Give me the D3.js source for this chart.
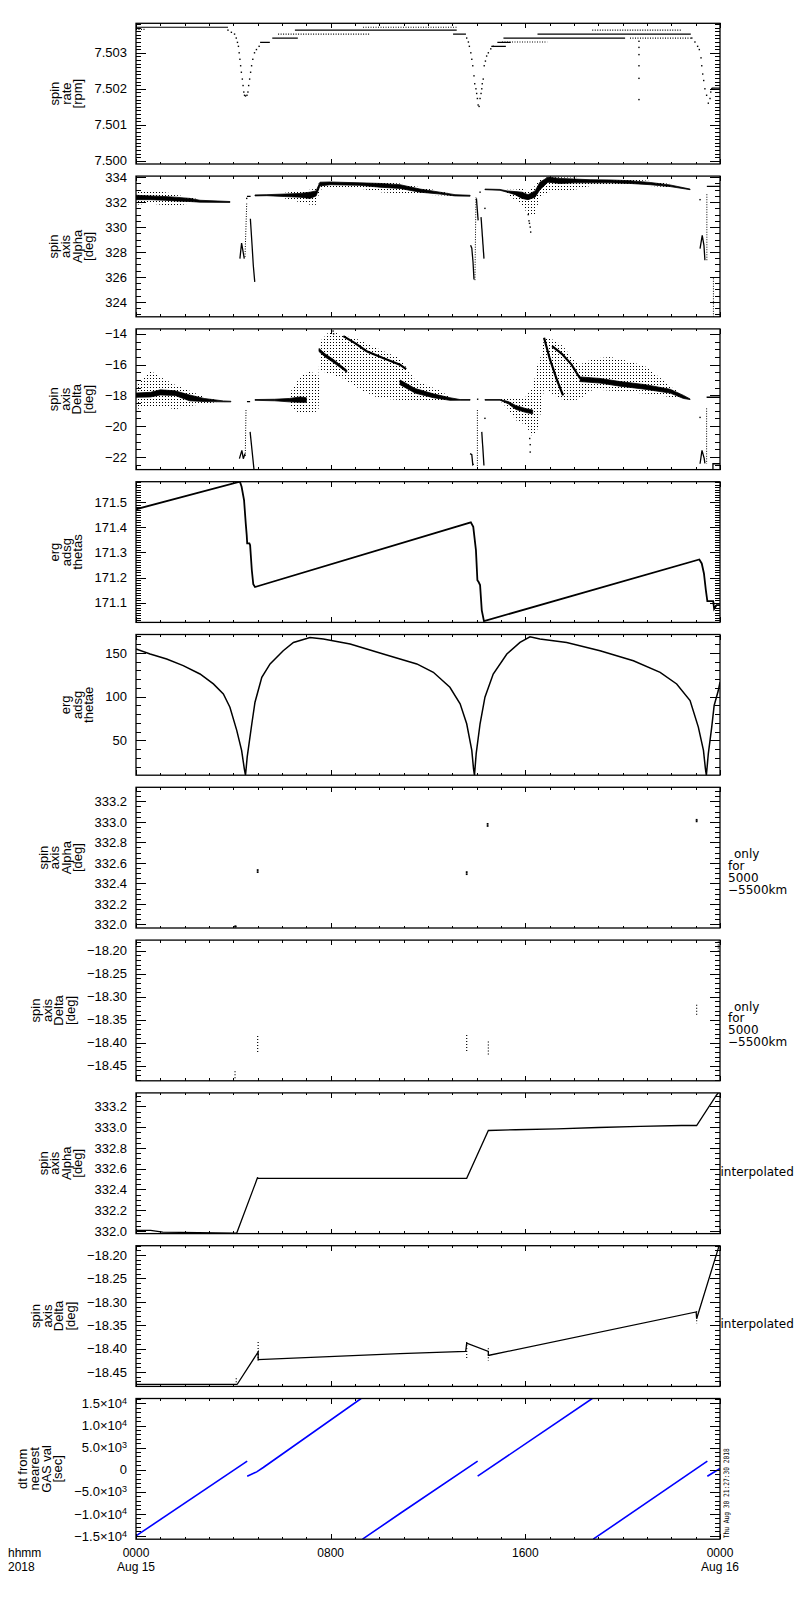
<!DOCTYPE html>
<html>
<head>
<meta charset="utf-8">
<script src="https://cdn.jsdelivr.net/npm/d3@7"></script>
<style>
  body { margin: 0; background: #fff; }
  text { fill: #000; }
</style>
</head>
<body>
<svg id="chart" width="800" height="1600"></svg>
<script>
// ---------- data (hours since 2018-08-15 00:00) ----------

const hourTicks = [0, 8, 16, 24]
const hourLabels = ["0000", "0800", "1600", "0000"]
const dayLabels = ["Aug 15", "", "", "Aug 16"]

const rateTicks = [7.500, 7.501, 7.502, 7.503]
const alphaTicks = [324, 326, 328, 330, 332, 334]
const deltaTicks = [-22, -20, -18, -16, -14]
const thetasTicks = [171.1, 171.2, 171.3, 171.4, 171.5]
const thetaeTicks = [50, 100, 150]
const alphaFineTicks = [332.0, 332.2, 332.4, 332.6, 332.8, 333.0, 333.2]
const deltaFineTicks = [-18.45, -18.40, -18.35, -18.30, -18.25, -18.20]
const dtTicks = [-15000, -10000, -5000, 0, 5000, 10000, 15000]

// spin rate: quantised levels [h0, h1, rpm] and single samples [h, rpm]
const rateSolid = [
  [0, 3.78, 7.50371], [5.1, 5.5, 7.50329], [5.6, 6.65, 7.50341],
  [6.53, 13.18, 7.50363], [13.03, 13.56, 7.50352], [14.6, 15.2, 7.50318],
  [14.85, 15.4, 7.50329], [15.1, 20.1, 7.50341], [16.5, 22.8, 7.50352],
  [23.66, 24, 7.50202]
]
const rateDotted = [
  [0, 0.4, 7.50365], [5.84, 9.6, 7.50352], [9.33, 13.18, 7.50371],
  [15.04, 16.9, 7.50330], [18.75, 22.45, 7.50363], [20.3, 22.8, 7.50341]
]
const rateDips = [
  [3.78, 7.50363], [3.92, 7.50357], [4.05, 7.50352], [4.12, 7.50341], [4.17, 7.50329],
  [4.21, 7.50318], [4.24, 7.50300], [4.27, 7.50282], [4.30, 7.50264], [4.33, 7.50246],
  [4.37, 7.50227], [4.40, 7.50209], [4.43, 7.50191], [4.46, 7.50182], [4.50, 7.50180],
  [4.56, 7.50182], [4.60, 7.50191], [4.63, 7.50209], [4.67, 7.50227], [4.71, 7.50246],
  [4.75, 7.50264], [4.80, 7.50282], [4.87, 7.50300], [4.95, 7.50309], [5.06, 7.50318],
  [13.59, 7.50341], [13.66, 7.50330], [13.70, 7.50318], [13.76, 7.50300], [13.80, 7.50282],
  [13.84, 7.50264], [13.89, 7.50236], [13.92, 7.50214], [13.97, 7.50200], [14.00, 7.50187],
  [14.03, 7.50173], [14.06, 7.50155], [14.10, 7.50151], [14.14, 7.50173], [14.18, 7.50187],
  [14.21, 7.50200], [14.23, 7.50214], [14.27, 7.50227], [14.31, 7.50264], [14.36, 7.50277],
  [14.41, 7.50291], [14.48, 7.50300], [14.58, 7.50311], [14.68, 7.50318],
  [20.67, 7.50332], [20.67, 7.50315], [20.67, 7.50295], [20.67, 7.50264], [20.67, 7.50229],
  [20.67, 7.50170],
  [22.84, 7.50341], [22.97, 7.50330], [23.08, 7.50318], [23.15, 7.50309], [23.22, 7.50286],
  [23.25, 7.50264], [23.29, 7.50241], [23.33, 7.50223], [23.38, 7.50200], [23.45, 7.50182],
  [23.52, 7.50160], [23.59, 7.50173], [23.62, 7.50191], [23.66, 7.50200]
]

// spin axis alpha: dense core [h, lo, hi], sparse scatter envelope [h, lo, hi]
const alphaCore = [
  [[0, 332.2, 332.55], [0.58, 332.2, 332.5], [1.19, 332.15, 332.45], [1.6, 332.1, 332.4],
   [2.22, 332.05, 332.3], [2.63, 332.0, 332.15], [3.86, 331.98, 332.05]],
  [[4.89, 332.5, 332.58], [5.38, 332.52, 332.6], [6.12, 332.45, 332.65], [6.74, 332.4, 332.7],
   [7.15, 332.3, 332.8], [7.4, 332.5, 332.9], [7.56, 333.3, 333.6], [7.97, 333.4, 333.62],
   [9.2, 333.35, 333.55], [10.03, 333.2, 333.5], [10.85, 333.1, 333.4], [11.67, 332.8, 333.05],
   [12.49, 332.65, 332.8], [13.11, 332.5, 332.6], [13.73, 332.48, 332.55]],
  [[14.34, 333.0, 333.05], [14.96, 332.95, 333.02], [15.25, 332.8, 332.9], [15.58, 332.6, 332.85],
   [15.86, 332.3, 332.8], [16.11, 332.2, 332.6], [16.4, 332.4, 332.9], [16.6, 333.0, 333.6],
   [16.93, 333.6, 334.0], [17.43, 333.5, 333.9], [18.04, 333.55, 333.85], [18.66, 333.55, 333.8],
   [19.48, 333.55, 333.78], [20.3, 333.5, 333.72], [21.13, 333.4, 333.58], [21.95, 333.25, 333.38],
   [22.77, 333.0, 333.05]]
]
const alphaCloud = [
  [[0, 331.8, 332.85], [0.58, 331.9, 332.9], [1.19, 331.75, 332.8], [1.5, 331.66, 332.7],
   [1.6, 331.7, 332.6], [2.22, 331.9, 332.4], [2.63, 331.95, 332.2], [3.0, 331.98, 332.1]],
  [[6.12, 332.3, 332.75], [6.74, 332.0, 332.9], [7.15, 331.8, 333.0], [7.4, 331.8, 333.1],
   [7.56, 333.0, 333.7], [7.97, 333.2, 333.7], [9.2, 333.1, 333.65], [10.03, 332.8, 333.6],
   [10.85, 332.7, 333.5], [11.67, 332.6, 333.2], [12.49, 332.55, 332.9], [13.11, 332.5, 332.6]],
  [[15.25, 332.6, 333.0], [15.58, 332.2, 333.0], [15.86, 331.8, 333.1], [16.11, 331.0, 332.9],
   [16.4, 331.0, 333.3], [16.6, 332.4, 333.9], [16.93, 332.8, 334.0], [17.43, 332.9, 334.0],
   [18.04, 333.0, 333.95], [18.66, 333.3, 333.9], [19.48, 333.4, 333.9], [20.3, 333.35, 333.85],
   [21.13, 333.3, 333.7], [21.95, 333.2, 333.45]]
]
const alphaTraces = [
  [[4.27, 327.47], [4.34, 328.72], [4.45, 327.47]],
  [[4.70, 330.67], [4.77, 328.54], [4.82, 326.94], [4.88, 325.6]],
  [[4.56, 332.46], [4.71, 332.46]],
  [[13.75, 328.54], [13.8, 328.3], [13.85, 327.2], [13.89, 325.79]],
  [[13.99, 332.3], [14.06, 330.54]],
  [[14.18, 330.8], [14.3, 327.47]],
  [[23.18, 328.27], [23.27, 329.34], [23.34, 328.54], [23.38, 327.34]],
  [[23.46, 333.26], [24, 333.26]]
]
const alphaDotted = [
  [4.48, 327.6, 4.55, 331.9], [13.93, 325.74, 13.97, 332.4],
  [23.46, 327.34, 23.46, 332.72], [23.73, 322.8, 23.73, 326.0]
]
const alphaPoints = [
  [4.55, 332.3], [14.14, 332.8], [14.34, 331.5], [23.18, 332.2],
  [16.12, 331.0], [16.15, 330.5], [16.17, 330.3], [16.2, 330.0], [16.22, 329.6]
]

// spin axis delta
const deltaCore = [
  [[0, -18.12, -17.85], [0.6, -18.1, -17.8], [1.0, -17.97, -17.64], [1.6, -18.0, -17.7],
   [2.2, -18.35, -17.97], [2.8, -18.4, -18.2], [3.6, -18.42, -18.36], [3.9, -18.42, -18.38]],
  [[4.89, -18.32, -18.27], [5.7, -18.35, -18.25], [6.3, -18.42, -18.2], [6.74, -18.45, -18.1],
   [7.0, -18.45, -18.15]],
  [[7.52, -15.15, -14.95], [7.77, -15.5, -15.3], [8.1, -15.85, -15.65], [8.66, -16.5, -16.35]],
  [[10.85, -17.3, -17.0], [11.47, -17.85, -17.55], [12.22, -18.15, -17.9], [12.9, -18.32, -18.15],
   [13.32, -18.31, -18.27], [13.73, -18.31, -18.27]],
  [[14.34, -18.31, -18.27], [14.96, -18.31, -18.27], [15.3, -18.55, -18.4], [15.6, -18.9, -18.65],
   [16.0, -19.1, -18.85], [16.3, -19.2, -18.95]],
  [[18.25, -17.1, -16.8], [19.07, -17.2, -16.9], [19.89, -17.4, -17.1], [20.92, -17.6, -17.3],
   [21.95, -17.85, -17.6], [22.5, -18.2, -18.0], [22.77, -18.27, -18.23]]
]
const deltaCloud = [
  [[0, -18.9, -17.4], [0.6, -18.7, -16.4], [1.0, -18.7, -16.8], [1.6, -18.9, -17.3],
   [2.2, -18.7, -17.7], [2.8, -18.55, -18.1], [3.3, -18.45, -18.3]],
  [[6.3, -18.7, -17.9], [6.74, -19.2, -16.8], [7.15, -19.2, -16.4], [7.5, -19.0, -16.8],
   [7.56, -16.4, -14.5], [7.97, -16.6, -13.8], [8.5, -16.9, -14.1], [9.2, -17.6, -14.4],
   [10.0, -18.2, -15.0], [10.85, -18.3, -15.6], [11.47, -18.3, -17.0], [12.5, -18.35, -17.7],
   [13.0, -18.3, -18.2]],
  [[14.96, -18.35, -18.25], [15.3, -18.9, -18.1], [15.6, -19.6, -18.1], [16.0, -19.9, -18.1],
   [16.3, -20.7, -17.5], [16.5, -20.2, -16.0], [16.65, -19.0, -15.4], [16.77, -17.5, -14.26],
   [17.2, -18.0, -14.4], [17.55, -18.3, -14.8], [17.9, -18.4, -15.5], [18.25, -18.2, -16.0],
   [18.8, -17.6, -15.6], [19.5, -17.7, -15.5], [20.3, -17.8, -15.8], [20.92, -17.9, -16.1],
   [21.5, -18.0, -16.8], [21.95, -18.1, -17.4], [22.4, -18.25, -17.9]]
]
const deltaBranches = [
  [[8.52, -14.15], [9.0, -14.6], [9.48, -15.13], [10.2, -15.6], [10.85, -16.0], [11.1, -16.3]],
  [[16.77, -14.26], [17.0, -15.6], [17.3, -17.0], [17.55, -18.0]],
  [[17.1, -14.8], [17.5, -15.3], [17.9, -16.0], [18.25, -16.9]]
]
const deltaTraces = [
  [[4.25, -22.11], [4.35, -21.57], [4.41, -22.11], [4.48, -21.78]],
  [[4.56, -18.4], [4.69, -18.4]],
  [[4.69, -20.37], [4.85, -22.83], [4.9, -23.2]],
  [[13.73, -21.78], [13.8, -21.85], [13.84, -22.5], [13.88, -22.45]],
  [[14.21, -20.37], [14.3, -22.55]],
  [[23.18, -22.44], [23.26, -21.57], [23.35, -22.09], [23.38, -22.42]],
  [[23.45, -18.12], [24, -18.12]],
  [[23.71, -22.9], [23.71, -22.44], [24, -22.44]]
]
const deltaDotted = [
  [4.52, -18.95, 4.49, -22.0], [14.03, -18.95, 14.03, -22.66], [23.45, -18.84, 23.45, -22.44]
]
const deltaPoints = [
  [14.34, -19.49], [14.04, -18.25], [23.18, -19.43], [16.2, -21.68], [16.2, -21.2],
  [16.18, -20.8], [8.1, -13.82], [8.12, -14.0]
]

// erg adsg thetas / thetae
const thetasLine = [
  [0, 171.472], [4.27, 171.582], [4.34, 171.562], [4.44, 171.509], [4.51, 171.416],
  [4.55, 171.369], [4.57, 171.336], [4.66, 171.336], [4.69, 171.329], [4.76, 171.229],
  [4.82, 171.173], [4.89, 171.162], [13.76, 171.42], [13.86, 171.402], [13.97, 171.309],
  [14.03, 171.189], [14.08, 171.182], [14.14, 171.17], [14.21, 171.069], [14.3, 171.026],
  [23.15, 171.272], [23.25, 171.256], [23.34, 171.216], [23.42, 171.149], [23.48, 171.106],
  [23.72, 171.106], [23.76, 171.075], [23.86, 171.09], [24, 171.09]
]
const thetaeLine = [
  [0, 154.6], [0.58, 148.9], [1.26, 143.2], [1.94, 135.5], [2.63, 126], [3.18, 114.6],
  [3.59, 103.2], [3.86, 88], [4.14, 61.4], [4.34, 38.6], [4.45, 17.7], [4.5, 10], [4.57, 31],
  [4.76, 69], [4.89, 93.7], [5.17, 122.2], [5.51, 137.5], [6.05, 152.6], [6.47, 162.1],
  [7.15, 167.8], [7.7, 166], [8.8, 160.3], [10.16, 148.9], [10.85, 143.2], [11.54, 137.5],
  [12.22, 127.9], [12.9, 110.8], [13.32, 91.8], [13.59, 69], [13.8, 38.6], [13.87, 17.7],
  [13.91, 10], [13.98, 34.8], [14.14, 69], [14.34, 99.4], [14.68, 126], [15.24, 148.9],
  [15.78, 162.1], [16.19, 168.6], [16.6, 166], [17.7, 162.1], [19.07, 152.6], [20.44, 141.2],
  [21.54, 127.9], [22.22, 114.6], [22.77, 95.6], [23.11, 65.2], [23.32, 38.6], [23.4, 17.7],
  [23.44, 10], [23.52, 34.8], [23.66, 65.2], [23.76, 89.9], [23.93, 107], [24, 116.5]
]

// only for 5000-5500 km
const alpha5000 = [
  [5.0, 332.51], [5.0, 332.53], [13.59, 332.49], [13.59, 332.51], [14.45, 332.96],
  [14.45, 332.98], [23.04, 333.005], [23.04, 333.02], [4.07, 331.98], [4.1, 331.98]
]
const delta5000 = [
  [5.0, -18.385, -18.422], [4.07, -18.462, -18.48], [13.59, -18.383, -18.421],
  [14.48, -18.397, -18.426], [23.04, -18.317, -18.341], [23.93, -18.18, -18.205]
]

// interpolated
const alphaInterp = [
  [0, 332.007], [0.6, 332.007], [1.1, 331.99], [4.0, 331.98], [4.14, 331.98], [5.0, 332.517],
  [5.0, 332.507], [13.59, 332.507], [14.48, 332.968], [15.6, 332.975], [17.29, 332.984],
  [19.0, 332.997], [20.71, 333.007], [22.42, 333.016], [23.04, 333.016], [23.86, 333.31],
  [24, 333.35]
]
const deltaInterp = [
  [0, -18.4764], [4.13, -18.4764], [4.16, -18.476], [5.02, -18.407], [5.02, -18.4234],
  [10.85, -18.4106], [13.55, -18.4057], [13.59, -18.388], [14.48, -18.4057], [14.48, -18.414],
  [14.52, -18.414], [23.02, -18.3215], [23.04, -18.336], [23.93, -18.1856], [24.0, -18.17]
]
const deltaInterpCols = [
  [5.02, -18.386, -18.425], [13.59, -18.386, -18.422], [14.48, -18.399, -18.426],
  [23.04, -18.32, -18.346], [4.12, -18.463, -18.476]
]

// dt from nearest GAS value [sec]
const dtSegments = [
  [[0, -15000], [4.57, 1926]],
  [[4.57, -1472], [4.96, -498], [5.23, 498], [9.25, 16130]],
  [[9.31, -15745], [10.85, -9923], [14.04, 1926]],
  [[14.04, -1472], [18.75, 16130]],
  [[18.79, -15745], [23.48, 1926]],
  [[23.48, -1472], [24, 270]]
]

// ---------- layout ----------
const W = 800, H = 1600
const left = 136, right = 720
const top0 = 23.3, step = 152.8, ph = 140.7
const tickFont = "'Liberation Sans', Arial, sans-serif"
const sideFont = "'DejaVu Sans', sans-serif"

const svg = d3.select("#chart")
svg.append("rect").attr("width", W).attr("height", H).attr("fill", "#fff")
const defs = svg.append("defs")

const stipple = defs.append("pattern")
  .attr("id", "stipple")
  .attr("width", 3).attr("height", 3)
  .attr("patternUnits", "userSpaceOnUse")
stipple.append("rect").attr("width", 1).attr("height", 1).attr("fill", "#000")

const x = d3.scaleLinear().domain([0, 24]).range([left, right])

function minorValues(domain, m) {
  const lo = Math.ceil(domain[0] / m - 1e-6), hi = Math.floor(domain[1] / m + 1e-6)
  return d3.range(lo, hi + 1).map(k => +(k * m).toFixed(6))
}

const panels = [
  { domain: [7.49991, 7.50382], ticks: rateTicks, minor: 0.0001, fmt: d3.format(".3f"), title: ["spin", "rate", "[rpm]"] },
  { domain: [322.8, 334.09], ticks: alphaTicks, minor: 0.5, fmt: d3.format("d"), title: ["spin", "axis", "Alpha", "[deg]"] },
  { domain: [-22.82, -13.68], ticks: deltaTicks, minor: 0.5, fmt: d3.format("d"), title: ["spin", "axis", "Delta", "[deg]"] },
  { domain: [171.021, 171.582], ticks: thetasTicks, minor: 0.01, fmt: d3.format(".1f"), title: ["erg", "adsg", "thetas"] },
  { domain: [10.1, 171.2], ticks: thetaeTicks, minor: 10, fmt: d3.format("d"), title: ["erg", "adsg", "thetae"] },
  { domain: [331.965, 333.337], ticks: alphaFineTicks, minor: 0.05, fmt: d3.format(".1f"), title: ["spin", "axis", "Alpha", "[deg]"] },
  { domain: [-18.4826, -18.1767], ticks: deltaFineTicks, minor: 0.01, fmt: d3.format(".2f"), title: ["spin", "axis", "Delta", "[deg]"] },
  { domain: [331.975, 333.33], ticks: alphaFineTicks, minor: 0.05, fmt: d3.format(".1f"), title: ["spin", "axis", "Alpha", "[deg]"] },
  { domain: [-18.4806, -18.180], ticks: deltaFineTicks, minor: 0.01, fmt: d3.format(".2f"), title: ["spin", "axis", "Delta", "[deg]"] },
  { domain: [-15745, 16130], ticks: dtTicks, minor: 1000, fmt: d3.format("d"), title: ["dt from", "nearest", "GAS val", "[sec]"], sci: true }
]

function styleAxis(g) {
  g.select(".domain").remove()
  g.attr("font-family", tickFont).attr("font-size", 13)
  g.selectAll(".tick line").attr("stroke-width", 1).attr("shape-rendering", "crispEdges")
}

const built = panels.map((cfg, i) => {
  const top = top0 + i * step
  const y = d3.scaleLinear().domain(cfg.domain).range([top + ph, top])
  const g = svg.append("g")

  defs.append("clipPath").attr("id", "clip" + i)
    .append("rect").attr("x", left).attr("y", top).attr("width", right - left).attr("height", ph)
  const plot = g.append("g").attr("clip-path", `url(#clip${i})`)

  const minors = minorValues(cfg.domain, cfg.minor)

  const axL = g.append("g").attr("transform", `translate(${left},0)`)
    .call(d3.axisLeft(y).tickValues(cfg.ticks).tickSize(-10).tickPadding(9).tickFormat(cfg.fmt))
    .call(styleAxis)
  g.append("g").attr("transform", `translate(${left},0)`)
    .call(d3.axisLeft(y).tickValues(minors).tickSize(-5).tickFormat(""))
    .call(styleAxis)
  g.append("g").attr("transform", `translate(${right},0)`)
    .call(d3.axisRight(y).tickValues(cfg.ticks).tickSize(-10).tickFormat(""))
    .call(styleAxis)
  g.append("g").attr("transform", `translate(${right},0)`)
    .call(d3.axisRight(y).tickValues(minors).tickSize(-5).tickFormat(""))
    .call(styleAxis)

  g.append("g").attr("transform", `translate(0,${top + ph})`)
    .call(d3.axisBottom(x).tickValues(hourTicks).tickSize(-5).tickFormat(""))
    .call(styleAxis)
  g.append("g").attr("transform", `translate(0,${top + ph})`)
    .call(d3.axisBottom(x).tickValues(d3.range(0, 25)).tickSize(-2.5).tickFormat(""))
    .call(styleAxis)
  g.append("g").attr("transform", `translate(0,${top})`)
    .call(d3.axisTop(x).tickValues(hourTicks).tickSize(-5).tickFormat(""))
    .call(styleAxis)
  g.append("g").attr("transform", `translate(0,${top})`)
    .call(d3.axisTop(x).tickValues(d3.range(0, 25)).tickSize(-2.5).tickFormat(""))
    .call(styleAxis)

  if (cfg.sci) {
    axL.selectAll(".tick text").each(function (d) {
      if (d === 0) return
      const e = Math.floor(Math.log10(Math.abs(d)))
      const t = d3.select(this).text(null)
      t.append("tspan").text(d3.format(".1f")(d / Math.pow(10, e)) + "×10")
      t.append("tspan").attr("dy", "-0.45em").attr("font-size", 9).text(e)
    })
  }

  g.append("rect")
    .attr("x", left).attr("y", top).attr("width", right - left).attr("height", ph)
    .attr("fill", "none").attr("stroke", "#000").attr("stroke-width", 1.3)

  // stacked, rotated y title placed left of the widest tick label
  let labelLeft = left
  axL.selectAll(".tick text").each(function () {
    const b = this.getBBox()
    labelLeft = Math.min(labelLeft, left + b.x)
  })
  const lastBase = labelLeft - 12
  const mid = top + ph / 2
  cfg.title.forEach((line, k) => {
    const tx = lastBase - (cfg.title.length - 1 - k) * 11.6
    g.append("text")
      .attr("x", tx).attr("y", mid)
      .attr("transform", `rotate(-90,${tx},${mid})`)
      .attr("text-anchor", "middle")
      .attr("font-family", tickFont).attr("font-size", 13)
      .text(line)
  })

  return { y, plot, top }
})

// ---------- drawing helpers ----------
function drawLines(p, data, width, color, dash) {
  const line = d3.line().x(d => x(d[0])).y(d => p.y(d[1]))
  p.plot.selectAll(null).data(data).join("path")
    .attr("d", line)
    .attr("fill", "none")
    .attr("stroke", color || "#000")
    .attr("stroke-width", width)
    .attr("stroke-dasharray", dash || null)
}

function drawPoints(p, data, size) {
  p.plot.selectAll(null).data(data).join("rect")
    .attr("x", d => x(d[0]) - size / 2)
    .attr("y", d => p.y(d[1]) - size / 2)
    .attr("width", size).attr("height", size)
    .attr("fill", "#000")
}

function drawBands(p, bands, fill, outline) {
  const area = d3.area().x(d => x(d[0])).y0(d => p.y(d[1])).y1(d => p.y(d[2]))
  p.plot.selectAll(null).data(bands).join("path")
    .attr("d", area)
    .attr("fill", fill)
    .attr("stroke", outline ? "#000" : "none")
    .attr("stroke-width", outline ? 0.8 : 0)
}

function drawColumns(p, data) {
  p.plot.selectAll(null).data(data).join("line")
    .attr("x1", d => x(d[0])).attr("x2", d => x(d[0]))
    .attr("y1", d => p.y(d[1])).attr("y2", d => p.y(d[2]))
    .attr("stroke", "#000").attr("stroke-width", 1.2)
    .attr("stroke-dasharray", "1,2")
}

function drawDotted(p, data) {
  p.plot.selectAll(null).data(data).join("line")
    .attr("x1", d => x(d[0])).attr("y1", d => p.y(d[1]))
    .attr("x2", d => x(d[2])).attr("y2", d => p.y(d[3]))
    .attr("stroke", "#000").attr("stroke-width", 1)
    .attr("stroke-dasharray", "1,1.5")
}

// ---------- panels ----------
// 1 spin rate
const pRate = built[0]
drawLines(pRate, rateSolid.map(d => [[d[0], d[2]], [d[1], d[2]]]), 1.2)
drawLines(pRate, rateDotted.map(d => [[d[0], d[2]], [d[1], d[2]]]), 1.2, "#000", "1,1.5")
drawPoints(pRate, rateDips, 1.4)

// 2 spin axis alpha
const pAlpha = built[1]
drawBands(pAlpha, alphaCloud, "url(#stipple)", false)
drawBands(pAlpha, alphaCore, "#000", true)
drawLines(pAlpha, alphaTraces, 1.3)
drawDotted(pAlpha, alphaDotted)
drawPoints(pAlpha, alphaPoints, 1.4)

// 3 spin axis delta
const pDelta = built[2]
drawBands(pDelta, deltaCloud, "url(#stipple)", false)
drawBands(pDelta, deltaCore, "#000", true)
drawLines(pDelta, deltaBranches, 2.2)
drawLines(pDelta, deltaTraces, 1.3)
drawDotted(pDelta, deltaDotted)
drawPoints(pDelta, deltaPoints, 1.4)

// 4, 5 angles
drawLines(built[3], [thetasLine], 1.8)
drawLines(built[4], [thetaeLine], 1.5)

// 6, 7 restricted altitude
drawPoints(built[5], alpha5000, 1.8)
drawColumns(built[6], delta5000)

// 8, 9 interpolated
drawLines(built[7], [alphaInterp], 1.3)
drawLines(built[8], [deltaInterp], 1.3)
drawColumns(built[8], deltaInterpCols)

// 10 dt
drawLines(built[9], dtSegments, 1.6, "#0000ff")

// ---------- side annotations ----------
const onlyFor = ["only", "for", "5000", "−5500km"]
const onlyDx = [6, 0, 0, 0]
const onlyDy = [70.5, 82.3, 94.3, 106.3]
;[5, 6].forEach(i => {
  onlyFor.forEach((s, k) => {
    svg.append("text")
      .attr("x", right + 8 + onlyDx[k]).attr("y", built[i].top + onlyDy[k])
      .attr("font-family", sideFont).attr("font-size", 12)
      .text(s)
  })
})
;[7, 8].forEach(i => {
  svg.append("text")
    .attr("x", right + 0.5).attr("y", built[i].top + 82.7)
    .attr("font-family", sideFont).attr("font-size", 12)
    .text("interpolated")
})

// ---------- time axis labels ----------
const xBase = built[9].top + ph
const timeFont = 12
hourTicks.forEach((h, k) => {
  svg.append("text").attr("x", x(h)).attr("y", xBase + 17.5)
    .attr("text-anchor", "middle").attr("font-family", tickFont).attr("font-size", timeFont)
    .text(hourLabels[k])
  if (dayLabels[k]) {
    svg.append("text").attr("x", x(h)).attr("y", xBase + 31.5)
      .attr("text-anchor", "middle").attr("font-family", tickFont).attr("font-size", timeFont)
      .text(dayLabels[k])
  }
})
svg.append("text").attr("x", 8).attr("y", xBase + 17.5)
  .attr("font-family", tickFont).attr("font-size", timeFont).text("hhmm")
svg.append("text").attr("x", 8).attr("y", xBase + 31.5)
  .attr("font-family", tickFont).attr("font-size", timeFont).text("2018")

// creation stamp
svg.append("text")
  .attr("transform", `translate(${right + 9},${xBase - 1}) rotate(-90)`)
  .attr("font-family", "'DejaVu Sans Mono', monospace").attr("font-size", 7.5)
  .attr("textLength", 90).attr("lengthAdjust", "spacingAndGlyphs")
  .text("Thu Aug 30 21:27:30 2018")
</script>
</body>
</html>
